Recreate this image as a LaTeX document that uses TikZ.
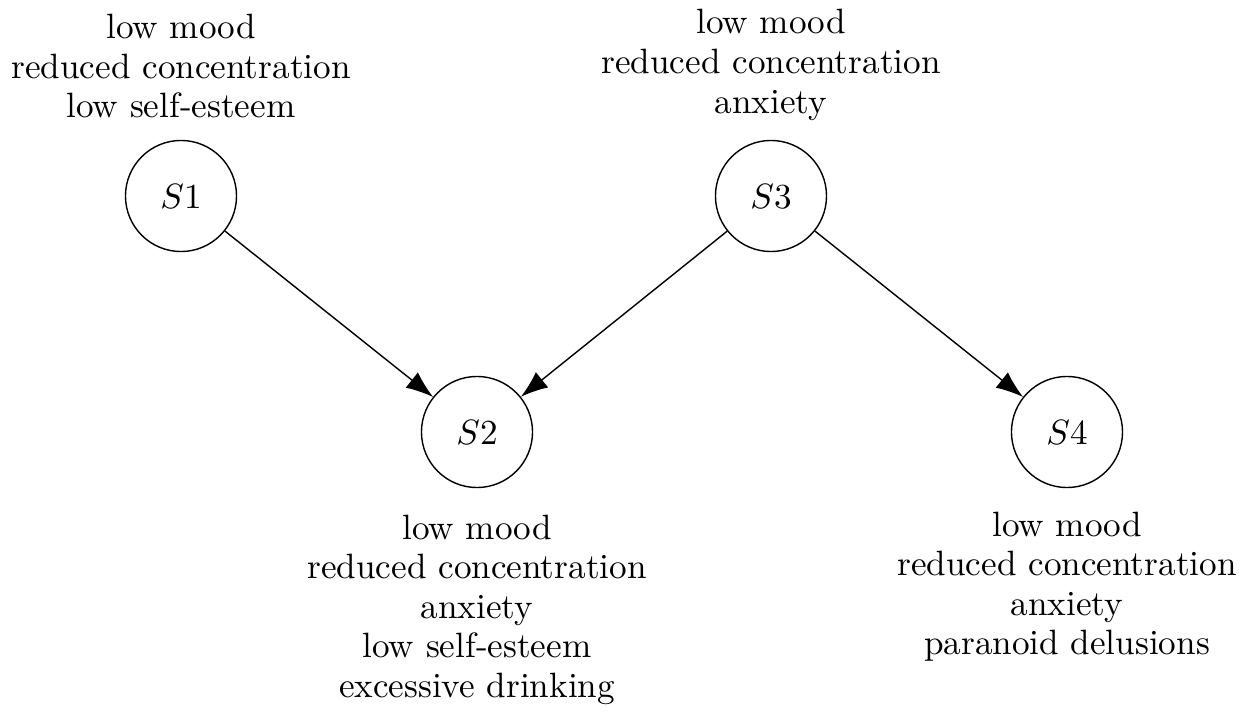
\documentclass[tikz,border=0pt]{standalone}
\usetikzlibrary{arrows.meta}
\begin{document}
\begin{tikzpicture}[x=0.01cm,y=-0.01cm,
  state/.style={draw, circle, minimum size=1.11cm, inner sep=0pt},
  lbl/.style={align=center, inner sep=0pt, font=\fontsize{10pt}{11.25pt}\selectfont},
  conn/.style={-{Latex[length=7.7pt,width=5.6pt]}}]
\useasboundingbox (0,0) rectangle (1250,715);
\node[state] (s1) at (181,196) {$S1$};
\node[state] (s2) at (477,432) {$S2$};
\node[state] (s3) at (771,196) {$S3$};
\node[state] (s4) at (1067,432) {$S4$};
\node[lbl, anchor=south] (l1) at (181,119) {low mood\\reduced concentration\\low self-esteem};
\node[lbl, anchor=south] (l3) at (771,121) {low mood\\reduced concentration\\anxiety};
\node[lbl, anchor=north] (l2) at (477,514) {low mood\\reduced concentration\\anxiety\\low self-esteem\\excessive drinking};
\node[lbl, anchor=north] (l4) at (1067,511) {low mood\\reduced concentration\\anxiety\\paranoid delusions};
\draw[conn] (s1) -- (s2);
\draw[conn] (s3) -- (s2);
\draw[conn] (s3) -- (s4);
\end{tikzpicture}
\end{document}
